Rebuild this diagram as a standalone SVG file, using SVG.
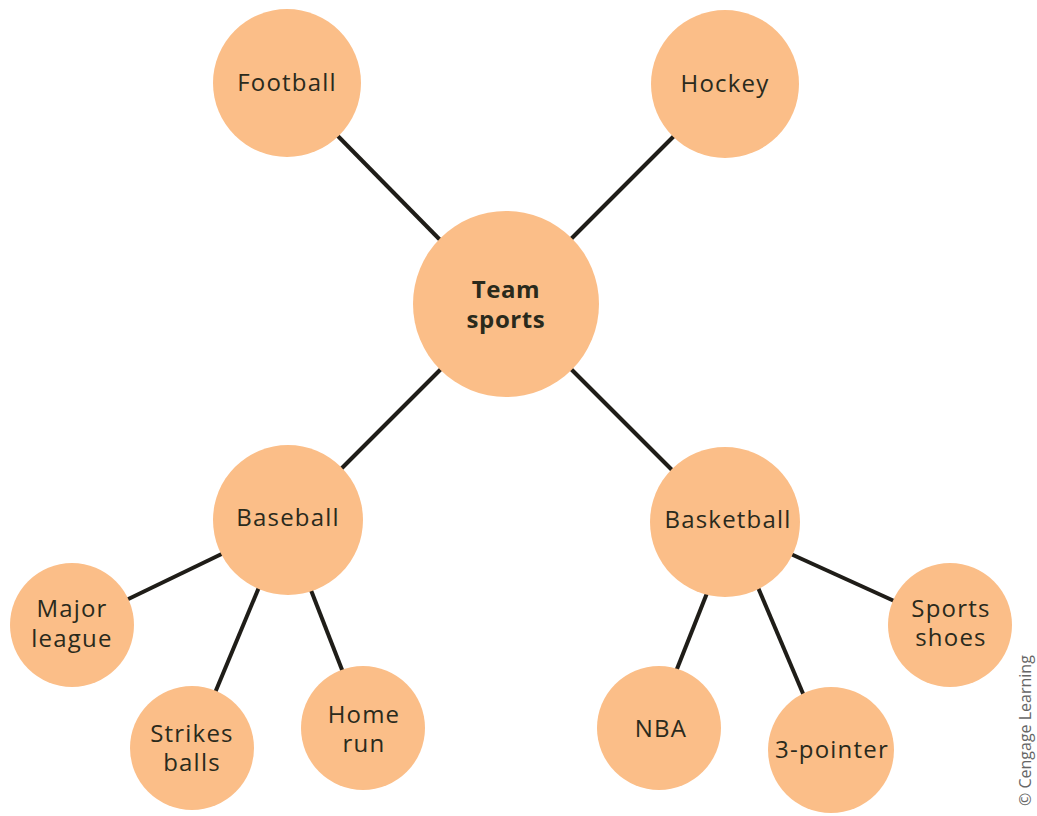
<svg xmlns="http://www.w3.org/2000/svg" width="1037" height="816" viewBox="0 0 1037 816">
<style>
.n{fill:#fbbe88}
.t{font-family:"Open Sans","Noto Sans","Liberation Sans",sans-serif;font-size:24px;letter-spacing:1.2px;fill:#2a2a1c;text-anchor:middle}
.b{font-weight:bold;letter-spacing:0.6px}
.c{stroke:#1f1d18;stroke-width:4;stroke-linecap:butt}
.cr{font-family:"Open Sans","Liberation Sans",sans-serif;font-size:16px;fill:#666}
</style>
<rect width="1037" height="816" fill="#fff"/>
<g id="connectors" class="c">
<line x1="330" y1="128" x2="450" y2="250"/>
<line x1="684" y1="126" x2="560" y2="250"/>
<line x1="450" y1="360" x2="332" y2="478"/>
<line x1="562" y1="360" x2="682" y2="480"/>
<line x1="118" y1="604" x2="232" y2="549"/>
<line x1="212" y1="700" x2="262" y2="580"/>
<line x1="307" y1="580" x2="346" y2="680"/>
<line x1="711" y1="583" x2="673" y2="679"/>
<line x1="754" y1="578" x2="807" y2="703"/>
<line x1="782" y1="550" x2="903" y2="605"/>
</g>
<g id="football"><circle class="n" cx="287" cy="83" r="74"/><text class="t" x="287" y="91">Football</text></g>
<g id="hockey"><circle class="n" cx="725" cy="84" r="74"/><text class="t" x="725" y="92">Hockey</text></g>
<g id="team-sports"><circle class="n" cx="506" cy="304" r="93"/><text class="t b" x="506" y="298">Team</text><text class="t b" x="506" y="328">sports</text></g>
<g id="baseball"><circle class="n" cx="288" cy="520" r="75"/><text class="t" x="288" y="526">Baseball</text></g>
<g id="basketball"><circle class="n" cx="725" cy="522" r="75"/><text class="t" x="728" y="528">Basketball</text></g>
<g id="major-league"><circle class="n" cx="72" cy="625" r="62"/><text class="t" x="72" y="617">Major</text><text class="t" x="72" y="647">league</text></g>
<g id="strikes-balls"><circle class="n" cx="192" cy="748" r="62"/><text class="t" x="192" y="742">Strikes</text><text class="t" x="192" y="771">balls</text></g>
<g id="home-run"><circle class="n" cx="363" cy="728" r="62"/><text class="t" x="364" y="723">Home</text><text class="t" x="364" y="752">run</text></g>
<g id="nba"><circle class="n" cx="659" cy="728" r="62"/><text class="t" x="661" y="737">NBA</text></g>
<g id="three-pointer"><circle class="n" cx="831" cy="750" r="63"/><text class="t" x="832" y="758">3-pointer</text></g>
<g id="sports-shoes"><circle class="n" cx="950" cy="625" r="62"/><text class="t" x="951" y="617">Sports</text><text class="t" x="951" y="646">shoes</text></g>
<text class="cr" transform="translate(1031,806) rotate(-90)">© Cengage Learning</text>
</svg>
